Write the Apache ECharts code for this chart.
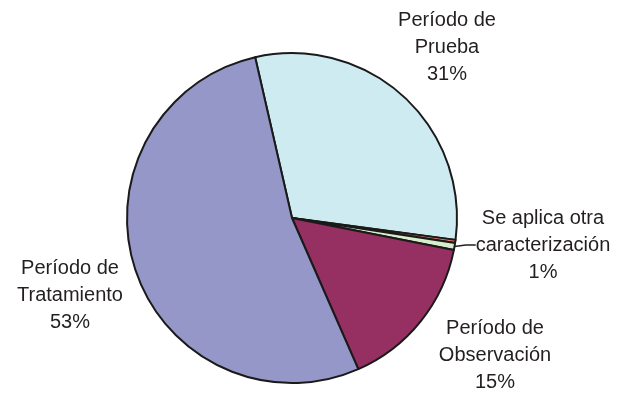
<!DOCTYPE html>
<html>
  <head>
    <meta charset="utf-8" />
    <script src="https://cdn.jsdelivr.net/npm/echarts@6.0.0/dist/echarts.min.js"></script>
  </head>
  <body style="margin:0">
    <div id="main" style="width: 618px;height:400px;"></div>
    <script type="text/javascript">
      // slices in clockwise order, starting at the top
      var names = ['Período de\nPrueba', 'Otra (rojo)', 'Se aplica otra\ncaracterización', 'Período de\nObservación', 'Período de\nTratamiento'];
      var values = [30.7, 0.3, 0.7, 15.3, 53.0];
      var shownPct = ['31%', '', '1%', '15%', '53%'];
      var colors = ['#cdebf0', '#e8786e', '#d8eecb', '#962f62', '#9597c8'];
      // where each label block sits (centre), px
      var labelPos = [[447, 47], null, [543, 245], [495, 355], [70, 295]];

      var myChart = echarts.init(document.getElementById('main'));

      var data = names.map(function (n, i) {
        return {
          name: n,
          value: values[i],
          itemStyle: { color: colors[i] },
          label: { show: i !== 1 },
          labelLine: { show: i === 2 }
        };
      });

      option = {
        animation: false,
        series: [
          {
            type: 'pie',
            center: [292, 218],
            radius: [0, 165],
            startAngle: 102.9,
            clockwise: true,
            avoidLabelOverlap: false,
            data: data,
            itemStyle: { borderColor: '#1a1a1a', borderWidth: 2 },
            label: {
              position: 'outside',
              formatter: function (p) {
                return p.name + '\n' + shownPct[p.dataIndex];
              },
              fontFamily: '"Liberation Sans", Arial, sans-serif',
              fontSize: 20,
              lineHeight: 27,
              color: '#231f20',
              align: 'center'
            },
            labelLine: {
              length: 6,
              length2: 10,
              lineStyle: { color: '#231f20', width: 1.5 }
            },
            labelLayout: function (p) {
              var pos = labelPos[p.dataIndex];
              if (!pos) return {};
              return {
                x: pos[0],
                y: pos[1],
                align: 'center',
                verticalAlign: 'middle',
                hideOverlap: false
              };
            }
          }
        ]
      };

      myChart.setOption(option);
    </script>
  </body>
</html>
